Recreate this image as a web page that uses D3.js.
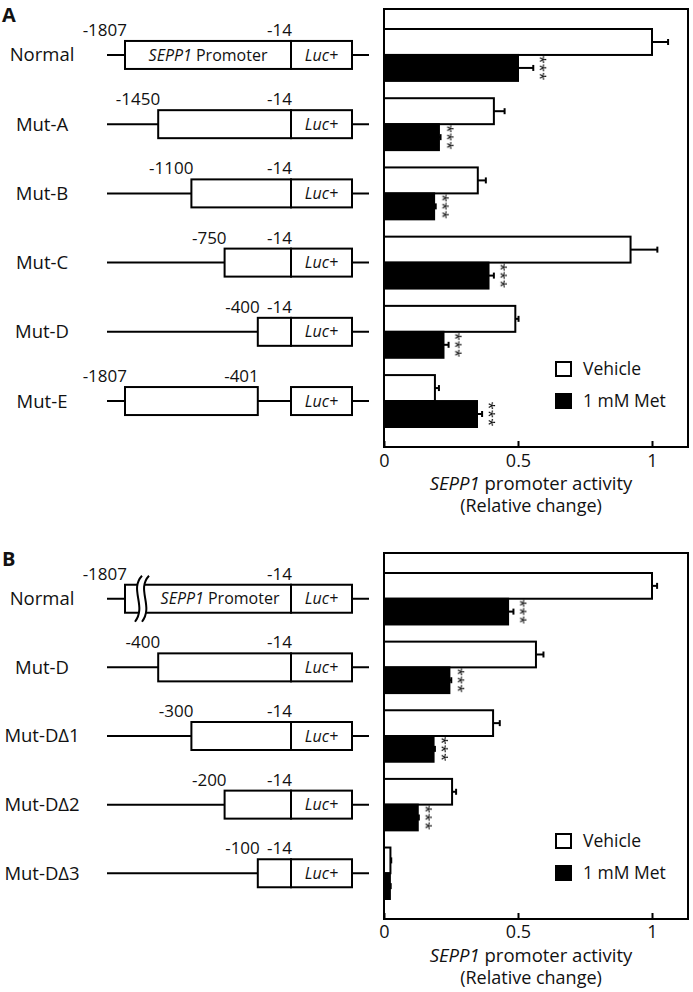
<!DOCTYPE html>
<html>
<head>
<meta charset="utf-8">
<script src="https://cdn.jsdelivr.net/npm/d3@7"></script>
<style>
  body { margin: 0; background: #fff; }
  text { font-family: "Open Sans", sans-serif; fill: #111; }
</style>
</head>
<body>
<script>
// ---- panel A values
var namesA = ["Normal", "Mut-A", "Mut-B", "Mut-C", "Mut-D", "Mut-E"];
var vehicleA = [1.0, 0.41, 0.35, 0.92, 0.49, 0.19];
var vehicleErrA = [0.06, 0.04, 0.03, 0.10, 0.012, 0.015];
var metA = [0.50, 0.205, 0.187, 0.39, 0.222, 0.347];
var metErrA = [0.057, 0.006, 0.006, 0.02, 0.019, 0.019];
var sigA = [true, true, true, true, true, true];
// construct diagrams: promoter box from slot to slot, labels above
var startSlotA = [0, 1, 2, 3, 4, 0];
var endSlotA = [5, 5, 5, 5, 5, 4];
var startLabA = ["-1807", "-1450", "-1100", "-750", "-400", "-1807"];
var endLabA = ["-14", "-14", "-14", "-14", "-14", "-401"];

// ---- panel B values
var namesB = ["Normal", "Mut-D", "Mut-D\u03941", "Mut-D\u03942", "Mut-D\u03943"];
var vehicleB = [1.0, 0.567, 0.407, 0.254, 0.024];
var vehicleErrB = [0.019, 0.028, 0.025, 0.015, 0.003];
var metB = [0.463, 0.244, 0.185, 0.126, 0.022];
var metErrB = [0.02, 0.007, 0.005, 0.004, 0.003];
var sigB = [true, true, true, true, false];
var startSlotB = [0, 1, 2, 3, 4];
var endSlotB = [5, 5, 5, 5, 5];
var startLabB = ["-1807", "-400", "-300", "-200", "-100"];
var endLabB = ["-14", "-14", "-14", "-14", "-14"];

var xTicks = [0, 0.5, 1];
var legendLabels = ["Vehicle", "1 mM Met"];

var width = 693, height = 992;

var svg = d3.select("body").append("svg")
  .attr("width", width)
  .attr("height", height);

// grey filter so the rotated stars don't get colour fringes
svg.append("defs").append("filter").attr("id", "grey")
  .append("feColorMatrix").attr("type", "saturate").attr("values", 0);

var x = d3.scaleLinear().domain([0, 1]).range([384, 652]);
var slotX = d3.scalePoint().domain(d3.range(6)).range([125, 291]);
var lucW = 61, boxH = 28;

function drawPanel(p) {
  var g = svg.append("g");
  var n = p.names.length;
  var idx = d3.range(n);

  var y = d3.scaleBand().domain(idx).range([p.top + 20, p.bottom - 20]).paddingInner(0.25);
  var sub = d3.scaleBand().domain(["veh", "met"]).range([0, y.bandwidth()]);

  // panel letter
  g.append("text").attr("x", 2).attr("y", p.top + 13)
    .style("font-size", "20px").style("font-weight", "bold").text(p.letter);

  // ---- construct diagrams
  var rows = g.selectAll(".row").data(idx).enter().append("g")
    .attr("class", "row")
    .attr("transform", function(i) { return "translate(0," + (y(i) + y.bandwidth() / 2) + ")"; });

  rows.append("text")
    .attr("x", 42).attr("y", 0).attr("dy", "0.35em")
    .attr("text-anchor", "middle")
    .style("font-size", "18.5px")
    .text(function(i) { return p.names[i]; });

  rows.append("line")
    .attr("x1", 107).attr("x2", 369)
    .attr("stroke", "#000").attr("stroke-width", 2);

  rows.append("rect")
    .attr("x", function(i) { return slotX(p.startSlot[i]); })
    .attr("width", function(i) { return slotX(p.endSlot[i]) - slotX(p.startSlot[i]); })
    .attr("y", -boxH / 2).attr("height", boxH)
    .attr("fill", "#fff").attr("stroke", "#000").attr("stroke-width", 2);

  rows.append("rect")
    .attr("x", slotX(5)).attr("width", lucW)
    .attr("y", -boxH / 2).attr("height", boxH)
    .attr("fill", "#fff").attr("stroke", "#000").attr("stroke-width", 2);

  rows.append("text")
    .attr("x", slotX(5) + lucW / 2).attr("y", 0).attr("dy", "0.35em")
    .attr("text-anchor", "middle")
    .style("font-size", "16px").style("font-style", "italic")
    .text("Luc+");

  rows.append("text")
    .attr("x", function(i) { return slotX(p.startSlot[i]) + 2; })
    .attr("y", -boxH / 2 - 5)
    .attr("text-anchor", "end")
    .style("font-size", "17px")
    .text(function(i) { return p.startLab[i]; });

  rows.append("text")
    .attr("x", function(i) { return slotX(p.endSlot[i]) + 1; })
    .attr("y", -boxH / 2 - 5)
    .attr("text-anchor", "end")
    .style("font-size", "17px")
    .text(function(i) { return p.endLab[i]; });

  // label inside the full-length promoter
  var full = rows.filter(function(i) { return i === 0; });
  var txt = full.append("text")
    .attr("x", (slotX(0) + slotX(5)) / 2 + p.promoShift).attr("y", 0).attr("dy", "0.35em")
    .attr("text-anchor", "middle")
    .style("font-size", "16px");
  txt.append("tspan").style("font-style", "italic").text("SEPP1");
  txt.append("tspan").text(" Promoter");

  if (p.brk) {
    var bx = slotX(0) + 10, t = -boxH / 2 - 9, b = boxH / 2 + 9;
    var curve = function(o) {
      return "M" + (bx + 7 + o) + "," + t + " C" + (bx - 6 + o) + "," + (t + 14) + " " +
        (bx + 12 + o) + "," + (b - 16) + " " + (bx + o) + "," + b;
    };
    full.append("path")
      .attr("d", "M" + (bx + 7) + "," + t + " C" + (bx - 6) + "," + (t + 14) + " " + (bx + 12) + "," + (b - 16) + " " + bx + "," + b +
        " L" + (bx + 7) + "," + b + " C" + (bx + 19) + "," + (b - 16) + " " + (bx + 1) + "," + (t + 14) + " " + (bx + 14) + "," + t + " Z")
      .attr("fill", "#fff").attr("stroke", "none");
    full.append("path").attr("d", curve(0)).attr("fill", "none").attr("stroke", "#000").attr("stroke-width", 2);
    full.append("path").attr("d", curve(7)).attr("fill", "none").attr("stroke", "#000").attr("stroke-width", 2);
  }

  // ---- bars
  var series = [
    { key: "veh", vals: p.vehicle, errs: p.vehicleErr, fill: "#fff" },
    { key: "met", vals: p.met, errs: p.metErr, fill: "#000" }
  ];

  series.forEach(function(s) {
    var bars = g.selectAll(".bar-" + s.key).data(idx).enter().append("g")
      .attr("class", "bar-" + s.key)
      .attr("transform", function(i) { return "translate(0," + (y(i) + sub(s.key)) + ")"; });

    var bh = sub.bandwidth();

    bars.append("line")
      .attr("x1", function(i) { return x(s.vals[i]); })
      .attr("x2", function(i) { return x(s.vals[i] + s.errs[i]); })
      .attr("y1", bh / 2).attr("y2", bh / 2)
      .attr("stroke", "#000").attr("stroke-width", 2);
    bars.append("line")
      .attr("x1", function(i) { return x(s.vals[i] + s.errs[i]); })
      .attr("x2", function(i) { return x(s.vals[i] + s.errs[i]); })
      .attr("y1", bh / 2 - 3).attr("y2", bh / 2 + 3)
      .attr("stroke", "#000").attr("stroke-width", 2);

    bars.append("rect")
      .attr("x", x(0))
      .attr("width", function(i) { return x(s.vals[i]) - x(0); })
      .attr("y", 0).attr("height", bh)
      .attr("fill", s.fill).attr("stroke", "#000").attr("stroke-width", 2);
  });

  // significance stars on the Met bars, stacked (rotated "***")
  g.selectAll(".stars").data(idx.filter(function(i) { return p.sig[i]; })).enter().append("text")
    .attr("class", "stars")
    .attr("transform", function(i) {
      return "translate(" + (x(p.met[i] + p.metErr[i]) + 11) + "," + (y(i) + sub("met") + sub.bandwidth() / 2) + ") rotate(90)";
    })
    .attr("dy", "0.57em")
    .attr("text-anchor", "middle")
    .attr("filter", "url(#grey)")
    .style("font-size", "15px").style("letter-spacing", "0px").style("fill", "#000")
    .text("***");

  // ---- frame + axis
  g.append("rect")
    .attr("x", x(0)).attr("y", p.top)
    .attr("width", 688 - x(0)).attr("height", p.bottom - p.top)
    .attr("fill", "none").attr("stroke", "#000").attr("stroke-width", 2);

  var axis = g.append("g")
    .attr("transform", "translate(0," + p.bottom + ")")
    .call(d3.axisBottom(x).tickValues(xTicks).tickFormat(function(d) { return String(d); })
      .tickSize(-6).tickPadding(p.tickPad));
  axis.select(".domain").remove();
  axis.selectAll(".tick line").attr("stroke-width", 2);
  axis.selectAll(".tick text").style("font-size", "18px").style("font-family", "Open Sans, sans-serif").attr("fill", "#111");

  var lab = g.append("text").attr("x", 531).attr("y", p.lab1)
    .attr("text-anchor", "middle").style("font-size", "18.5px");
  lab.append("tspan").style("font-style", "italic").text("SEPP1");
  lab.append("tspan").text(" promoter activity");
  g.append("text").attr("x", 531).attr("y", p.lab2)
    .attr("text-anchor", "middle").style("font-size", "18px")
    .text("(Relative change)");

  // ---- legend
  var leg = g.selectAll(".leg").data(legendLabels).enter().append("g")
    .attr("class", "leg")
    .attr("transform", function(d, i) { return "translate(556," + (p.bottom - 85 + i * 32) + ")"; });
  leg.append("rect").attr("width", 15).attr("height", 14)
    .attr("fill", function(d, i) { return i ? "#000" : "#fff"; })
    .attr("stroke", "#000").attr("stroke-width", 2);
  leg.append("text").attr("x", 27).attr("y", 13)
    .style("font-size", "17.5px").text(function(d) { return d; });
}

drawPanel({
  letter: "A", top: 9, bottom: 447, lab1: 490, lab2: 512, tickPad: 7,
  names: namesA, vehicle: vehicleA, vehicleErr: vehicleErrA, met: metA, metErr: metErrA, sig: sigA,
  startSlot: startSlotA, endSlot: endSlotA, startLab: startLabA, endLab: endLabA,
  promoShift: 0, brk: false
});

drawPanel({
  letter: "B", top: 553, bottom: 919, lab1: 962, lab2: 984, tickPad: 6,
  names: namesB, vehicle: vehicleB, vehicleErr: vehicleErrB, met: metB, metErr: metErrB, sig: sigB,
  startSlot: startSlotB, endSlot: endSlotB, startLab: startLabB, endLab: endLabB,
  promoShift: 12, brk: true
});
</script>
</body>
</html>
